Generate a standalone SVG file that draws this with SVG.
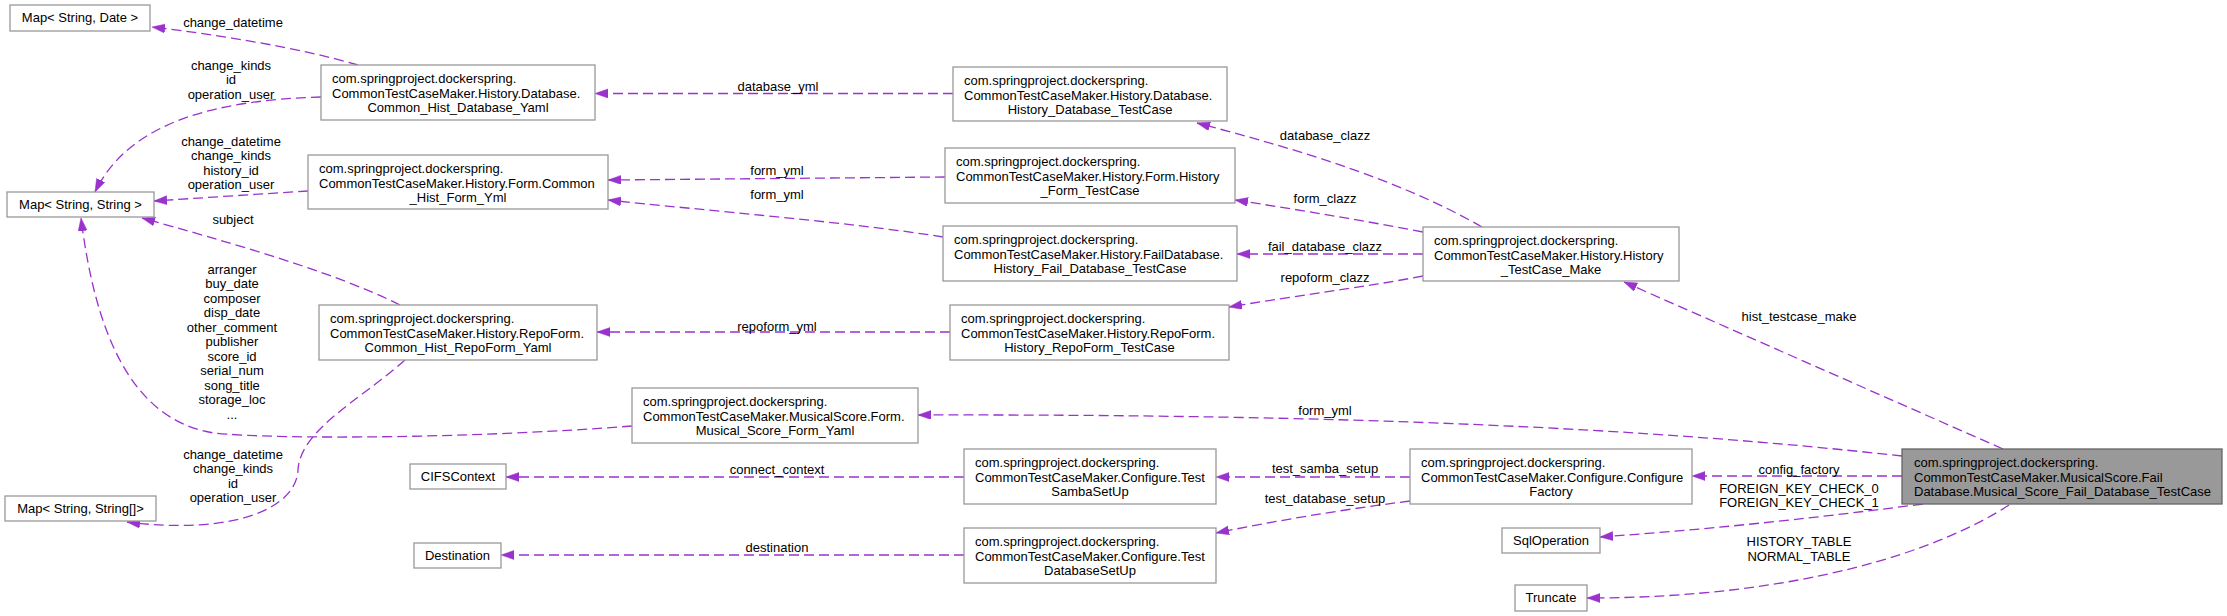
<svg xmlns="http://www.w3.org/2000/svg" width="2227" height="616" viewBox="0 0 2227 616">
<style>
text{font-family:"Liberation Sans",Arial,Helvetica,sans-serif;font-size:13px;fill:#000}
.c{text-anchor:middle}
.n{fill:#fff;stroke:#999;stroke-width:1.3}
.m{fill:#999;stroke:#666;stroke-width:1.3}
.e{fill:none;stroke:#9a32cd;stroke-width:1.3;stroke-dasharray:10,5;marker-end:url(#ah)}
</style>
<defs>
<marker id="ah" markerUnits="userSpaceOnUse" markerWidth="14" markerHeight="10" refX="13" refY="4.5" orient="auto">
<path d="M0,0 L13,4.5 L0,9 z" fill="#9a32cd" stroke="#9a32cd" stroke-width="0.5"/>
</marker>
</defs>
<rect width="2227" height="616" fill="#fff"/>
<g id="edges">
<path class="e" d="M358,65 C300,48 220,35 152,27"/>
<path class="e" d="M321,97 C220,100 130,120 95,192"/>
<path class="e" d="M308,191 C260,194 200,198 154,201"/>
<path class="e" d="M400,305 C330,270 220,240 142,218"/>
<path class="e" d="M632,426 C480,438 280,440 214,433 C130,420 95,330 81,218"/>
<path class="e" d="M405,360 C360,400 300,430 298,470 C296,510 230,535 127,522"/>
<path class="e" d="M953,93.5 L595,93.5"/>
<path class="e" d="M945,177 L608,180"/>
<path class="e" d="M943,237 C850,222 700,210 608,200"/>
<path class="e" d="M950,332 L597,332"/>
<path class="e" d="M1482,227 C1400,180 1300,150 1197,123"/>
<path class="e" d="M1423,232 C1360,220 1300,210 1235,200"/>
<path class="e" d="M1423,254 L1237,254"/>
<path class="e" d="M1423,276 C1360,288 1300,295 1229,307"/>
<path class="e" d="M2003,449 L1624,282"/>
<path class="e" d="M1902,456 C1650,428 1350,414 918,415"/>
<path class="e" d="M1902,476 L1692,476"/>
<path class="e" d="M1923,504 C1800,520 1700,530 1600,537"/>
<path class="e" d="M2009,505 C1940,550 1800,598 1587,598"/>
<path class="e" d="M1410,477 L1216,477"/>
<path class="e" d="M1410,501 C1340,510 1280,520 1216,533"/>
<path class="e" d="M964,477 L506,477"/>
<path class="e" d="M964,555 L501,555"/>
<text class="c" x="233" y="27">change_datetime</text>
<text class="c" x="231" y="69.5">change_kinds</text>
<text class="c" x="231" y="84">id</text>
<text class="c" x="231" y="98.5">operation_user</text>
<text class="c" x="231" y="145.5">change_datetime</text>
<text class="c" x="231" y="160">change_kinds</text>
<text class="c" x="231" y="174.5">history_id</text>
<text class="c" x="231" y="189">operation_user</text>
<text class="c" x="233" y="224">subject</text>
<text class="c" x="232" y="273.5">arranger</text>
<text class="c" x="232" y="288">buy_date</text>
<text class="c" x="232" y="302.5">composer</text>
<text class="c" x="232" y="317">disp_date</text>
<text class="c" x="232" y="331.5">other_comment</text>
<text class="c" x="232" y="346">publisher</text>
<text class="c" x="232" y="360.5">score_id</text>
<text class="c" x="232" y="375">serial_num</text>
<text class="c" x="232" y="389.5">song_title</text>
<text class="c" x="232" y="404">storage_loc</text>
<text class="c" x="232" y="418.5">...</text>
<text class="c" x="233" y="458.5">change_datetime</text>
<text class="c" x="233" y="473">change_kinds</text>
<text class="c" x="233" y="487.5">id</text>
<text class="c" x="233" y="502">operation_user</text>
<text class="c" x="778" y="90.5">database_yml</text>
<text class="c" x="777" y="174.5">form_yml</text>
<text class="c" x="777" y="198.5">form_yml</text>
<text class="c" x="777" y="330.5">repoform_yml</text>
<text class="c" x="777" y="473.5">connect_context</text>
<text class="c" x="777" y="551.5">destination</text>
<text class="c" x="1325" y="139.5">database_clazz</text>
<text class="c" x="1325" y="202.5">form_clazz</text>
<text class="c" x="1325" y="250.5">fail_database_clazz</text>
<text class="c" x="1325" y="281.5">repoform_clazz</text>
<text class="c" x="1325" y="414.5">form_yml</text>
<text class="c" x="1325" y="472.5">test_samba_setup</text>
<text class="c" x="1325" y="502.5">test_database_setup</text>
<text class="c" x="1799" y="320.5">hist_testcase_make</text>
<text class="c" x="1799" y="473.5">config_factory</text>
<text class="c" x="1799" y="493">FOREIGN_KEY_CHECK_0</text>
<text class="c" x="1799" y="507">FOREIGN_KEY_CHECK_1</text>
<text class="c" x="1799" y="545.5">HISTORY_TABLE</text>
<text class="c" x="1799" y="560.5">NORMAL_TABLE</text>
</g>
<g id="map_string_date"><rect class="n" x="10" y="5" width="140" height="26"/><text class="c" x="80" y="22">Map&lt; String, Date &gt;</text></g>
<g id="map_string_string"><rect class="n" x="7" y="192" width="147" height="25"/><text class="c" x="80.5" y="209">Map&lt; String, String &gt;</text></g>
<g id="map_string_stringarr"><rect class="n" x="5" y="496" width="151" height="25"/><text class="c" x="80.5" y="513">Map&lt; String, String[]&gt;</text></g>
<g id="common_hist_database_yaml"><rect class="n" x="321" y="65" width="274" height="55"/><text x="332" y="83">com.springproject.dockerspring.</text><text x="332" y="97.5">CommonTestCaseMaker.History.Database.</text><text class="c" x="458" y="112">Common_Hist_Database_Yaml</text></g>
<g id="common_hist_form_yml"><rect class="n" x="308" y="155" width="300" height="54"/><text x="319" y="173">com.springproject.dockerspring.</text><text x="319" y="187.5">CommonTestCaseMaker.History.Form.Common</text><text class="c" x="458" y="202">_Hist_Form_Yml</text></g>
<g id="common_hist_repoform_yaml"><rect class="n" x="319" y="305" width="278" height="55"/><text x="330" y="323">com.springproject.dockerspring.</text><text x="330" y="337.5">CommonTestCaseMaker.History.RepoForm.</text><text class="c" x="458" y="352">Common_Hist_RepoForm_Yaml</text></g>
<g id="history_database_testcase"><rect class="n" x="953" y="67" width="274" height="54"/><text x="964" y="85">com.springproject.dockerspring.</text><text x="964" y="99.5">CommonTestCaseMaker.History.Database.</text><text class="c" x="1090" y="114">History_Database_TestCase</text></g>
<g id="history_form_testcase"><rect class="n" x="945" y="148" width="290" height="55"/><text x="956" y="166">com.springproject.dockerspring.</text><text x="956" y="180.5">CommonTestCaseMaker.History.Form.History</text><text class="c" x="1090" y="195">_Form_TestCase</text></g>
<g id="history_fail_database_testcase"><rect class="n" x="943" y="226" width="294" height="55"/><text x="954" y="244">com.springproject.dockerspring.</text><text x="954" y="258.5">CommonTestCaseMaker.History.FailDatabase.</text><text class="c" x="1090" y="273">History_Fail_Database_TestCase</text></g>
<g id="history_repoform_testcase"><rect class="n" x="950" y="305" width="279" height="55"/><text x="961" y="323">com.springproject.dockerspring.</text><text x="961" y="337.5">CommonTestCaseMaker.History.RepoForm.</text><text class="c" x="1089.5" y="352">History_RepoForm_TestCase</text></g>
<g id="musical_score_form_yaml"><rect class="n" x="632" y="388" width="286" height="55"/><text x="643" y="406">com.springproject.dockerspring.</text><text x="643" y="420.5">CommonTestCaseMaker.MusicalScore.Form.</text><text class="c" x="775" y="435">Musical_Score_Form_Yaml</text></g>
<g id="cifscontext"><rect class="n" x="410" y="464" width="96" height="25"/><text class="c" x="458" y="481">CIFSContext</text></g>
<g id="destination"><rect class="n" x="414" y="543" width="87" height="25"/><text class="c" x="457.5" y="560">Destination</text></g>
<g id="test_samba_setup"><rect class="n" x="964" y="449" width="252" height="55"/><text x="975" y="467">com.springproject.dockerspring.</text><text x="975" y="481.5">CommonTestCaseMaker.Configure.Test</text><text class="c" x="1090" y="496">SambaSetUp</text></g>
<g id="test_database_setup"><rect class="n" x="964" y="528" width="252" height="55"/><text x="975" y="546">com.springproject.dockerspring.</text><text x="975" y="560.5">CommonTestCaseMaker.Configure.Test</text><text class="c" x="1090" y="575">DatabaseSetUp</text></g>
<g id="history_testcase_make"><rect class="n" x="1423" y="227" width="256" height="54"/><text x="1434" y="245">com.springproject.dockerspring.</text><text x="1434" y="259.5">CommonTestCaseMaker.History.History</text><text class="c" x="1551" y="274">_TestCase_Make</text></g>
<g id="configure_factory"><rect class="n" x="1410" y="449" width="282" height="55"/><text x="1421" y="467">com.springproject.dockerspring.</text><text x="1421" y="481.5">CommonTestCaseMaker.Configure.Configure</text><text class="c" x="1551" y="496">Factory</text></g>
<g id="sqloperation"><rect class="n" x="1502" y="528" width="98" height="25"/><text class="c" x="1551" y="545">SqlOperation</text></g>
<g id="truncate"><rect class="n" x="1515" y="585" width="72" height="26"/><text class="c" x="1551" y="602">Truncate</text></g>
<g id="musical_score_fail_database_testcase"><rect class="m" x="1902" y="449" width="320" height="55"/><text x="1914" y="467">com.springproject.dockerspring.</text><text x="1914" y="481.5">CommonTestCaseMaker.MusicalScore.Fail</text><text x="1914" y="496">Database.Musical_Score_Fail_Database_TestCase</text></g>
</svg>
